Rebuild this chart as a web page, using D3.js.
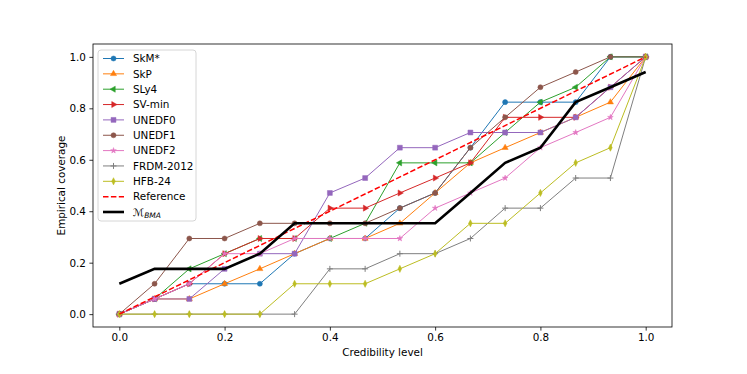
<!doctype html>
<html>
<head>
<script src="https://d3js.org/d3.v7.min.js"></script>
<style>
body { margin: 0; background: #fff; }
text { font-family: "DejaVu Sans", sans-serif; }
</style>
</head>
<body>
<svg width="747" height="374"></svg>
<script>
// credibility levels (x) and empirical coverage per model (y)
var levels = [0, 0.067, 0.133, 0.2, 0.267, 0.333, 0.4, 0.467, 0.533, 0.6, 0.667, 0.733, 0.8, 0.867, 0.933, 1.0];

var skm   = [0, 0.059, 0.118, 0.118, 0.118, 0.235, 0.294, 0.294, 0.412, 0.471, 0.647, 0.824, 0.824, 0.824, 1.0, 1.0];
var skp   = [0, 0.059, 0.059, 0.118, 0.176, 0.235, 0.294, 0.294, 0.353, 0.471, 0.588, 0.647, 0.706, 0.765, 0.824, 1.0];
var sly4  = [0, 0.059, 0.176, 0.235, 0.294, 0.294, 0.294, 0.353, 0.588, 0.588, 0.588, 0.706, 0.824, 0.882, 1.0, 1.0];
var svmin = [0, 0.059, 0.118, 0.235, 0.294, 0.294, 0.412, 0.412, 0.471, 0.529, 0.588, 0.765, 0.765, 0.765, 0.882, 1.0];
var unedf0 = [0, 0.059, 0.059, 0.176, 0.235, 0.235, 0.471, 0.529, 0.647, 0.647, 0.706, 0.706, 0.706, 0.765, 0.882, 1.0];
var unedf1 = [0, 0.118, 0.294, 0.294, 0.353, 0.353, 0.353, 0.353, 0.412, 0.471, 0.647, 0.765, 0.882, 0.941, 1.0, 1.0];
var unedf2 = [0, 0.059, 0.118, 0.235, 0.235, 0.294, 0.294, 0.294, 0.294, 0.412, 0.471, 0.529, 0.647, 0.706, 0.765, 1.0];
var frdm  = [0, 0, 0, 0, 0, 0, 0.176, 0.176, 0.235, 0.235, 0.294, 0.412, 0.412, 0.529, 0.529, 1.0];
var hfb   = [0, 0, 0, 0, 0, 0.118, 0.118, 0.118, 0.176, 0.235, 0.353, 0.353, 0.471, 0.588, 0.647, 1.0];
var bma   = [0.118, 0.176, 0.176, 0.176, 0.235, 0.353, 0.353, 0.353, 0.353, 0.353, 0.471, 0.588, 0.647, 0.824, 0.882, 0.941];

var refLine = [0, 1];

var names  = ["SkM*", "SkP", "SLy4", "SV-min", "UNEDF0", "UNEDF1", "UNEDF2", "FRDM-2012", "HFB-24"];
var series = [skm, skp, sly4, svmin, unedf0, unedf1, unedf2, frdm, hfb];
var colors = ["#1f77b4", "#ff7f0e", "#2ca02c", "#d62728", "#9467bd", "#8c564b", "#e377c2", "#7f7f7f", "#bcbd22"];
var marks  = ["circle", "up", "left", "right", "square", "circle", "star", "plus", "diamond"];
var xTicks = [0, 0.2, 0.4, 0.6, 0.8, 1.0];
var yTicks = [0, 0.2, 0.4, 0.6, 0.8, 1.0];

var svg = d3.select("svg");
var mLeft = 93, mRight = 672, mTop = 44, mBottom = 327;

var x = d3.scaleLinear().domain([-0.05, 1.05]).range([mLeft, mRight]);
var y = d3.scaleLinear().domain([-0.05, 1.05]).range([mBottom, mTop]);

// marker shapes
function markerPath(type) {
  if (type == "circle") return d3.symbol(d3.symbolCircle, 20)();
  if (type == "square") return d3.symbol(d3.symbolSquare, 24)();
  if (type == "star") return d3.symbol(d3.symbolStar, 10)();
  if (type == "plus") return "M-3,0H3M0,-3V3";
  if (type == "diamond") return "M0,-3.6L1.8,0L0,3.6L-1.8,0Z";
  return d3.symbol(d3.symbolTriangle, 16)();
}
function markerRot(type) {
  if (type == "left") return -90;
  if (type == "right") return 90;
  return 0;
}

var line = d3.line()
  .x(function(d, i) { return x(levels[i]); })
  .y(function(d) { return y(d); });

var plot = svg.append("g");

series.forEach(function(vals, s) {
  plot.append("path")
    .attr("d", line(vals))
    .attr("fill", "none")
    .attr("stroke", colors[s])
    .attr("stroke-width", 1);

  plot.selectAll(null)
    .data(vals)
    .enter()
    .append("path")
    .attr("d", markerPath(marks[s]))
    .attr("transform", function(d, i) {
      return "translate(" + x(levels[i]) + "," + y(d) + ") rotate(" + markerRot(marks[s]) + ")";
    })
    .attr("fill", marks[s] == "plus" ? "none" : colors[s])
    .attr("stroke", colors[s])
    .attr("stroke-width", marks[s] == "plus" ? 1 : 0.5);
});

// reference diagonal
plot.append("line")
  .attr("x1", x(refLine[0])).attr("y1", y(refLine[0]))
  .attr("x2", x(refLine[1])).attr("y2", y(refLine[1]))
  .attr("stroke", "#ff0000")
  .attr("stroke-width", 1.5)
  .attr("stroke-dasharray", "5.5,2.4");

// BMA
plot.append("path")
  .attr("d", line(bma))
  .attr("fill", "none")
  .attr("stroke", "#000")
  .attr("stroke-width", 2.6);

// axes
var xAxis = svg.append("g")
  .attr("transform", "translate(0," + mBottom + ")")
  .call(d3.axisBottom(x).tickValues(xTicks).tickFormat(d3.format(".1f")).tickSizeOuter(0).tickSize(3.6).tickPadding(3.5));
var yAxis = svg.append("g")
  .attr("transform", "translate(" + mLeft + ",0)")
  .call(d3.axisLeft(y).tickValues(yTicks).tickFormat(d3.format(".1f")).tickSizeOuter(0).tickSize(3.6).tickPadding(3.5));
[xAxis, yAxis].forEach(function(a) {
  a.select(".domain").remove();
  a.selectAll("text").style("font-size", "10.4px").attr("fill", "#000").style("font-family", "DejaVu Sans");
  a.selectAll("line").attr("stroke", "#000").attr("stroke-width", 0.8);
});

svg.append("rect")
  .attr("x", mLeft).attr("y", mTop)
  .attr("width", mRight - mLeft).attr("height", mBottom - mTop)
  .attr("fill", "none").attr("stroke", "#000").attr("stroke-width", 0.8);

svg.append("text")
  .attr("x", (mLeft + mRight) / 2).attr("y", 356)
  .attr("text-anchor", "middle")
  .style("font-size", "10.4px")
  .text("Credibility level");

svg.append("text")
  .attr("transform", "translate(65," + (mTop + mBottom) / 2 + ") rotate(-90)")
  .attr("text-anchor", "middle")
  .style("font-size", "10.4px")
  .text("Empirical coverage");

// legend
var leg = svg.append("g").attr("transform", "translate(98,50)");
leg.append("rect")
  .attr("width", 98).attr("height", 171).attr("rx", 3)
  .attr("fill", "#fff").attr("fill-opacity", 0.8)
  .attr("stroke", "#ccc").attr("stroke-width", 0.8);

var rowH = 15.35;
names.forEach(function(n, s) {
  var yy = 8.5 + s * rowH;
  leg.append("line").attr("x1", 5).attr("x2", 26).attr("y1", yy).attr("y2", yy)
    .attr("stroke", colors[s]).attr("stroke-width", 1);
  leg.append("path").attr("d", markerPath(marks[s]))
    .attr("transform", "translate(15.5," + yy + ") rotate(" + markerRot(marks[s]) + ")")
    .attr("fill", marks[s] == "plus" ? "none" : colors[s])
    .attr("stroke", colors[s]).attr("stroke-width", marks[s] == "plus" ? 1 : 0.5);
  leg.append("text").attr("x", 35).attr("y", yy + 3.8).style("font-size", "10.4px").text(n);
});
var yRef = 8.5 + 9 * rowH;
leg.append("line").attr("x1", 5).attr("x2", 26).attr("y1", yRef).attr("y2", yRef)
  .attr("stroke", "#ff0000").attr("stroke-width", 1.5).attr("stroke-dasharray", "5.5,2.4");
leg.append("text").attr("x", 35).attr("y", yRef + 3.8).style("font-size", "10.4px").text("Reference");
var yB = 8.5 + 10 * rowH;
leg.append("line").attr("x1", 5).attr("x2", 26).attr("y1", yB).attr("y2", yB)
  .attr("stroke", "#000").attr("stroke-width", 2.6);
var lt = leg.append("text").attr("x", 35).attr("y", yB + 3.8).style("font-size", "10.4px");
lt.append("tspan").style("font-style", "italic").text("ℳ");
lt.append("tspan").attr("dy", 2.5).style("font-size", "7.5px").style("font-style", "italic").text("BMA");
</script>
</body>
</html>
